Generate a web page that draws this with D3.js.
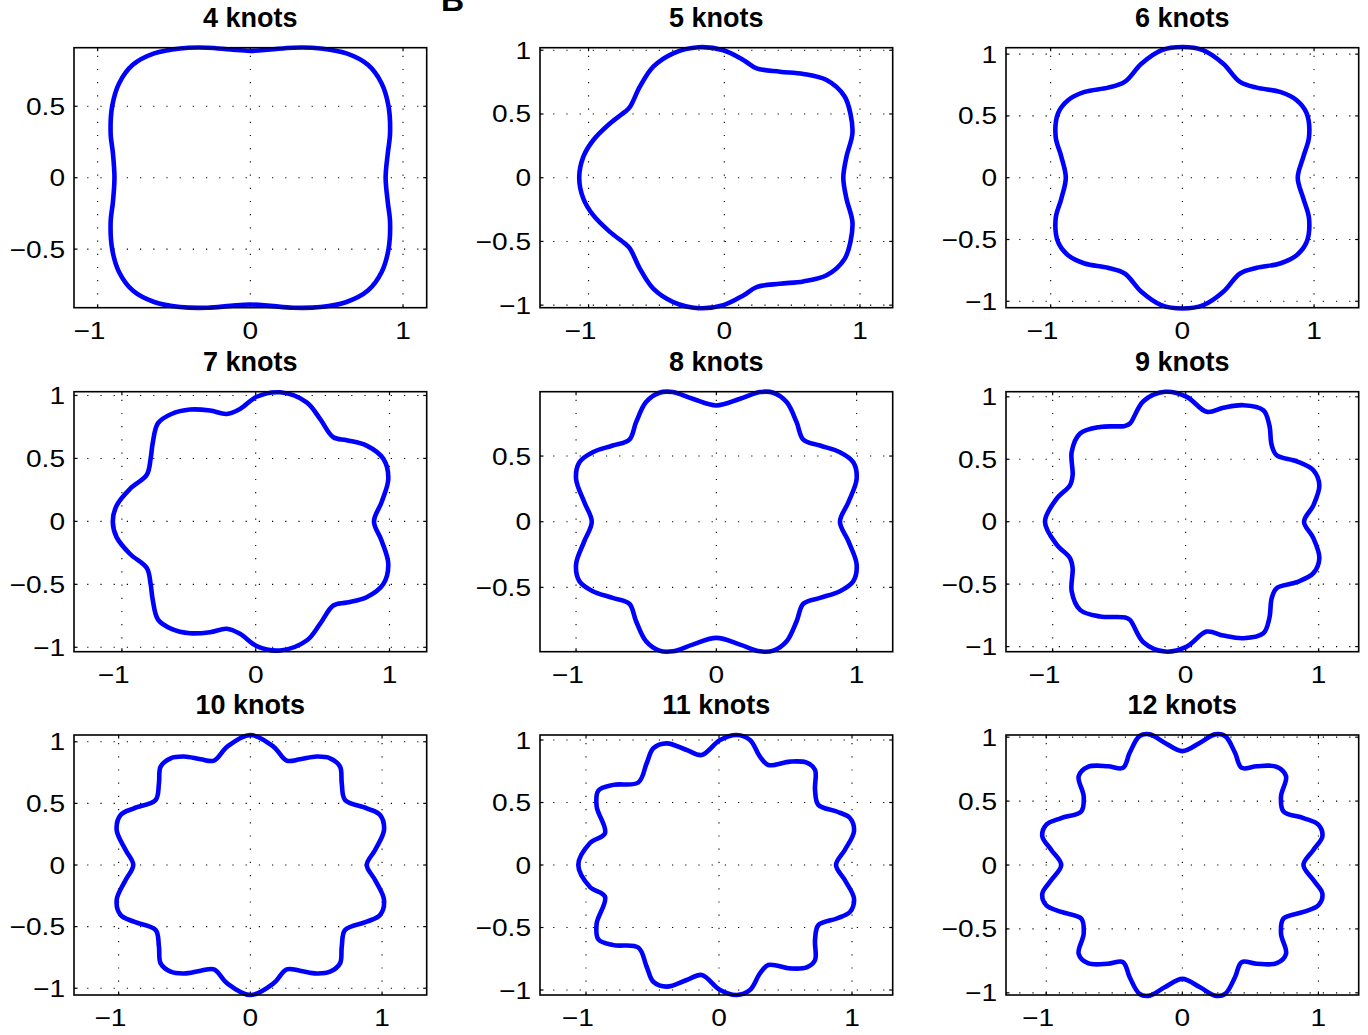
<!DOCTYPE html>
<html>
<head>
<meta charset="utf-8">
<script src="https://cdn.jsdelivr.net/npm/d3@7"></script>
<style>
  html, body { margin: 0; padding: 0; background: #fff; }
  svg { display: block; }
  text { font-family: "Liberation Sans", Arial, Helvetica, sans-serif; fill: #000; }
</style>
</head>
<body>
<svg id="chart" width="1368" height="1035"></svg>
<script>
// panel titles (knot counts), left to right, top to bottom
var knotCounts = [4, 5, 6, 7, 8, 9, 10, 11, 12];

// axis limits
var xLims = [[-1.155, 1.155], [-1.358, 1.241], [-1.339, 1.339],
             [-1.358, 1.278], [-1.257, 1.257], [-1.351, 1.301],
             [-1.339, 1.339], [-1.346, 1.306], [-1.296, 1.296]];
var yLims = [[-0.91, 0.91], [-1.02, 1.02], [-1.052, 1.052],
             [-1.035, 1.03], [-0.99, 0.99], [-1.041, 1.041],
             [-1.055, 1.055], [-1.04, 1.04], [-1.017, 1.017]];

var xTickValues = [-1, 0, 1];
var yTicksShort = [-0.5, 0, 0.5];
var yTicksLong = [-1, -0.5, 0, 0.5, 1];

// curves, counter-clockwise from the right
var curve4 = [[0.886,0],[0.90,0.17],[0.915,0.31],[0.905,0.50],[0.86,0.66],[0.77,0.79],[0.63,0.87],[0.46,0.905],[0.28,0.91],[0.13,0.897],[0,0.888],
  [-0.13,0.897],[-0.28,0.91],[-0.46,0.905],[-0.63,0.87],[-0.77,0.79],[-0.86,0.66],[-0.905,0.50],[-0.915,0.31],[-0.90,0.17],[-0.89,0],
  [-0.90,-0.17],[-0.915,-0.31],[-0.905,-0.50],[-0.86,-0.66],[-0.77,-0.79],[-0.63,-0.87],[-0.46,-0.905],[-0.28,-0.91],[-0.13,-0.897],[0,-0.888],
  [0.13,-0.897],[0.28,-0.91],[0.46,-0.905],[0.63,-0.87],[0.77,-0.79],[0.86,-0.66],[0.905,-0.50],[0.915,-0.31],[0.90,-0.17]];

var curve5 = [[0.877,0],[0.90,0.163],[0.944,0.346],[0.93,0.50],[0.885,0.64],[0.754,0.766],[0.582,0.814],[0.41,0.832],[0.238,0.858],[0.14,0.924],[-0.007,1.0],[-0.19,1.024],
  [-0.376,0.976],[-0.523,0.871],[-0.622,0.714],[-0.695,0.556],[-0.732,0.517],[-0.843,0.425],[-0.966,0.294],[-1.039,0.163],[-1.069,0],
  [-1.039,-0.163],[-0.966,-0.294],[-0.843,-0.425],[-0.732,-0.517],[-0.695,-0.556],[-0.622,-0.714],[-0.523,-0.871],[-0.376,-0.976],
  [-0.19,-1.024],[-0.007,-1.0],[0.14,-0.924],[0.238,-0.858],[0.41,-0.832],[0.582,-0.814],[0.754,-0.766],[0.885,-0.64],[0.93,-0.50],[0.944,-0.346],[0.90,-0.163]];

var curve6 = [[0.876,0],[0.919,0.17],[0.962,0.331],[0.944,0.52],[0.868,0.627],[0.742,0.694],[0.565,0.729],[0.438,0.775],[0.311,0.923],[0.16,1.031],[0,1.058],
  [-0.16,1.031],[-0.311,0.923],[-0.438,0.775],[-0.565,0.729],[-0.742,0.694],[-0.868,0.627],[-0.944,0.52],[-0.962,0.331],[-0.919,0.17],[-0.885,0],
  [-0.919,-0.17],[-0.962,-0.331],[-0.944,-0.52],[-0.868,-0.627],[-0.742,-0.694],[-0.565,-0.729],[-0.438,-0.775],[-0.311,-0.923],[-0.16,-1.031],[0,-1.058],
  [0.16,-1.031],[0.311,-0.923],[0.438,-0.775],[0.565,-0.729],[0.742,-0.694],[0.868,-0.627],[0.944,-0.52],[0.962,-0.331],[0.919,-0.17]];

var curve7 = [[0.884,0],[0.941,0.153],[0.991,0.338],[0.954,0.497],[0.829,0.602],[0.68,0.645],[0.58,0.668],[0.481,0.814],[0.381,0.946],[0.182,1.025],[0.007,0.99],[-0.117,0.893],[-0.217,0.853],
  [-0.341,0.88],[-0.491,0.888],[-0.63,0.853],[-0.73,0.78],[-0.77,0.62],[-0.785,0.5],[-0.814,0.37],[-0.939,0.259],[-1.039,0.127],[-1.068,0],
  [-1.039,-0.127],[-0.939,-0.259],[-0.814,-0.37],[-0.785,-0.5],[-0.77,-0.62],[-0.73,-0.78],[-0.63,-0.853],[-0.491,-0.888],[-0.341,-0.88],
  [-0.217,-0.853],[-0.117,-0.893],[0.007,-0.99],[0.182,-1.025],[0.381,-0.946],[0.481,-0.814],[0.58,-0.668],[0.68,-0.645],[0.829,-0.602],[0.954,-0.497],[0.991,-0.338],[0.941,-0.153]];

var curve8 = [[0.881,0],[0.941,0.148],[1.0,0.326],[0.976,0.453],[0.881,0.529],[0.739,0.58],[0.62,0.625],[0.572,0.758],[0.501,0.911],[0.406,0.982],[0.311,0.987],[0.169,0.936],[0,0.885],
  [-0.169,0.936],[-0.311,0.987],[-0.406,0.982],[-0.501,0.911],[-0.572,0.758],[-0.62,0.625],[-0.739,0.58],[-0.881,0.529],[-0.976,0.453],[-1.0,0.326],[-0.941,0.148],[-0.888,0],
  [-0.941,-0.148],[-1.0,-0.326],[-0.976,-0.453],[-0.881,-0.529],[-0.739,-0.58],[-0.62,-0.625],[-0.572,-0.758],[-0.501,-0.911],[-0.406,-0.982],[-0.311,-0.987],[-0.169,-0.936],[0,-0.885],
  [0.169,-0.936],[0.311,-0.987],[0.406,-0.982],[0.501,-0.911],[0.572,-0.758],[0.62,-0.625],[0.739,-0.58],[0.881,-0.529],[0.976,-0.453],[1.0,-0.326],[0.941,-0.148]];

var curve9 = [[0.89,0],[0.96,0.131],[1.005,0.291],[0.96,0.412],[0.835,0.484],[0.684,0.532],[0.647,0.612],[0.629,0.773],[0.584,0.893],[0.434,0.933],[0.283,0.912],[0.158,0.88],[0.008,1.0],[-0.155,1.04],
  [-0.318,0.965],[-0.419,0.786],[-0.456,0.767],[-0.644,0.759],[-0.794,0.706],[-0.857,0.559],[-0.85,0.372],[-0.87,0.291],[-0.97,0.184],[-1.058,0],
  [-0.97,-0.184],[-0.87,-0.291],[-0.85,-0.372],[-0.857,-0.559],[-0.794,-0.706],[-0.644,-0.759],[-0.456,-0.767],[-0.419,-0.786],[-0.318,-0.965],
  [-0.155,-1.04],[0.008,-1.0],[0.158,-0.88],[0.283,-0.912],[0.434,-0.933],[0.584,-0.893],[0.629,-0.773],[0.647,-0.612],[0.684,-0.532],[0.835,-0.484],[0.96,-0.412],[1.005,-0.291],[0.96,-0.131]];

var curve10 = [[0.884,0],[0.947,0.122],[1.015,0.284],[0.985,0.406],[0.884,0.46],[0.719,0.528],[0.694,0.663],[0.681,0.798],[0.605,0.866],[0.504,0.88],[0.377,0.858],[0.276,0.847],[0.175,0.961],[0,1.055],
  [-0.175,0.961],[-0.276,0.847],[-0.377,0.858],[-0.504,0.88],[-0.605,0.866],[-0.681,0.798],[-0.694,0.663],[-0.719,0.528],[-0.884,0.46],[-0.985,0.406],[-1.015,0.284],[-0.947,0.122],[-0.889,0],
  [-0.947,-0.122],[-1.015,-0.284],[-0.985,-0.406],[-0.884,-0.46],[-0.719,-0.528],[-0.694,-0.663],[-0.681,-0.798],[-0.605,-0.866],[-0.504,-0.88],[-0.377,-0.858],[-0.276,-0.847],[-0.175,-0.961],[0,-1.055],
  [0.175,-0.961],[0.276,-0.847],[0.377,-0.858],[0.504,-0.88],[0.605,-0.866],[0.681,-0.798],[0.694,-0.663],[0.719,-0.528],[0.884,-0.46],[0.985,-0.406],[1.015,-0.284],[0.947,-0.122]];

var curve11 = [[0.88,0],[0.947,0.122],[1.015,0.269],[0.985,0.375],[0.885,0.428],[0.747,0.481],[0.722,0.601],[0.722,0.761],[0.659,0.819],[0.534,0.827],[0.371,0.80],[0.308,0.867],[0.233,1.0],[0.133,1.04],[0.008,1.0],
  [-0.13,0.88],[-0.243,0.92],[-0.393,0.973],[-0.494,0.934],[-0.544,0.814],[-0.607,0.66],[-0.794,0.641],[-0.907,0.595],[-0.92,0.468],[-0.857,0.255],[-0.97,0.176],[-1.058,0],
  [-0.97,-0.176],[-0.857,-0.255],[-0.92,-0.468],[-0.907,-0.595],[-0.794,-0.641],[-0.607,-0.66],[-0.544,-0.814],[-0.494,-0.934],[-0.393,-0.973],[-0.243,-0.92],[-0.13,-0.88],
  [0.008,-1.0],[0.133,-1.04],[0.233,-1.0],[0.308,-0.867],[0.371,-0.80],[0.534,-0.827],[0.659,-0.819],[0.722,-0.761],[0.722,-0.601],[0.747,-0.481],[0.885,-0.428],[0.985,-0.375],[1.015,-0.269],[0.947,-0.122]];

var curve12 = [[0.89,0],[0.963,0.118],[1.029,0.223],[1.0,0.315],[0.89,0.367],[0.743,0.419],[0.725,0.537],[0.762,0.695],[0.694,0.768],[0.547,0.773],[0.436,0.76],[0.387,0.878],[0.314,1.009],[0.24,1.022],[0.13,0.957],[0,0.891],
  [-0.13,0.957],[-0.24,1.022],[-0.314,1.009],[-0.387,0.878],[-0.436,0.76],[-0.547,0.773],[-0.694,0.768],[-0.762,0.695],[-0.725,0.537],[-0.743,0.419],[-0.89,0.367],[-1.0,0.315],[-1.029,0.223],[-0.963,0.118],[-0.89,0],
  [-0.963,-0.118],[-1.029,-0.223],[-1.0,-0.315],[-0.89,-0.367],[-0.743,-0.419],[-0.725,-0.537],[-0.762,-0.695],[-0.694,-0.768],[-0.547,-0.773],[-0.436,-0.76],[-0.387,-0.878],[-0.314,-1.009],[-0.24,-1.022],[-0.13,-0.957],[0,-0.891],
  [0.13,-0.957],[0.24,-1.022],[0.314,-1.009],[0.387,-0.878],[0.436,-0.76],[0.547,-0.773],[0.694,-0.768],[0.762,-0.695],[0.725,-0.537],[0.743,-0.419],[0.89,-0.367],[1.0,-0.315],[1.029,-0.223],[0.963,-0.118]];

var curves = [curve4, curve5, curve6, curve7, curve8, curve9, curve10, curve11, curve12];

// layout
var svg = d3.select("#chart"),
    colLeft = [74, 540, 1006],
    rowTop = [47.7, 391.7, 735],
    boxW = 352.7,
    boxH = 260,
    tickLen = 3.5,
    labelScale = 1.17; // tick labels in the picture are a bit wider than tall

function fmt(v) {
  return (v < 0 ? "\u2212" : "") + d3.format("~g")(Math.abs(v));
}

// the figure heading, cut off at the top edge as in the picture
svg.append("text")
  .attr("x", 441).attr("y", 11)
  .attr("font-size", 32).attr("font-weight", "bold")
  .text("B");

knotCounts.forEach(function(k, i) {
  var left = colLeft[i % 3], top = rowTop[Math.floor(i / 3)];
  var x = d3.scaleLinear().domain(xLims[i]).range([0, boxW]);
  var y = d3.scaleLinear().domain(yLims[i]).range([boxH, 0]);
  var yTicks = (yLims[i][1] < 1) ? yTicksShort : yTicksLong;

  var g = svg.append("g").attr("transform", "translate(" + left + "," + top + ")");

  // dotted grid
  var grid = g.append("g").attr("stroke", "#000").attr("stroke-width", 1.1)
    .attr("stroke-dasharray", "1.2,12");
  grid.selectAll(".gx").data(xTickValues).enter().append("line")
    .attr("x1", function(d) { return x(d); }).attr("x2", function(d) { return x(d); })
    .attr("y1", boxH).attr("y2", 0);
  grid.selectAll(".gy").data(yTicks).enter().append("line")
    .attr("y1", function(d) { return y(d); }).attr("y2", function(d) { return y(d); })
    .attr("x1", 0).attr("x2", boxW);

  // inward ticks on all four sides
  var ticks = g.append("g").attr("stroke", "#000").attr("stroke-width", 1.2);
  xTickValues.forEach(function(d) {
    ticks.append("line").attr("x1", x(d)).attr("x2", x(d)).attr("y1", boxH).attr("y2", boxH - tickLen);
    ticks.append("line").attr("x1", x(d)).attr("x2", x(d)).attr("y1", 0).attr("y2", tickLen);
  });
  yTicks.forEach(function(d) {
    ticks.append("line").attr("y1", y(d)).attr("y2", y(d)).attr("x1", 0).attr("x2", tickLen);
    ticks.append("line").attr("y1", y(d)).attr("y2", y(d)).attr("x1", boxW).attr("x2", boxW - tickLen);
  });

  // the curve
  var line = d3.line()
    .x(function(d) { return x(d[0]); })
    .y(function(d) { return y(d[1]); })
    .curve(d3.curveCatmullRomClosed.alpha(0.5));
  g.append("path")
    .datum(curves[i])
    .attr("d", line)
    .attr("fill", "none")
    .attr("stroke", "#0000ff")
    .attr("stroke-width", 4.6)
    .attr("stroke-linejoin", "round");

  // box
  g.append("rect").attr("width", boxW).attr("height", boxH)
    .attr("fill", "none").attr("stroke", "#000").attr("stroke-width", 1.6);

  // y tick labels, right aligned
  yTicks.forEach(function(d) {
    g.append("text")
      .attr("transform", "translate(" + (-9) + "," + (y(d) + 8.5) + ") scale(" + labelScale + ",1)")
      .attr("text-anchor", "end")
      .attr("font-size", 24)
      .text(fmt(d));
  });

  // x tick labels: the number sits centred on the tick, a minus hangs to its left
  xTickValues.forEach(function(d) {
    var t = g.append("text")
      .attr("transform", "translate(" + x(d) + "," + (boxH + 31) + ") scale(" + labelScale + ",1)")
      .attr("text-anchor", "middle")
      .attr("font-size", 24)
      .text(fmt(Math.abs(d)));
    if (d < 0) {
      var half = t.node().getComputedTextLength() / 2;
      g.append("text")
        .attr("transform", "translate(" + (x(d) - half * labelScale) + "," + (boxH + 31) + ") scale(" + labelScale + ",1)")
        .attr("text-anchor", "end")
        .attr("font-size", 24)
        .text("\u2212");
    }
  });

  // panel title
  g.append("text")
    .attr("x", boxW / 2).attr("y", -21)
    .attr("text-anchor", "middle")
    .attr("font-size", 27).attr("font-weight", "bold")
    .text(k + " knots");
});
</script>
</body>
</html>
